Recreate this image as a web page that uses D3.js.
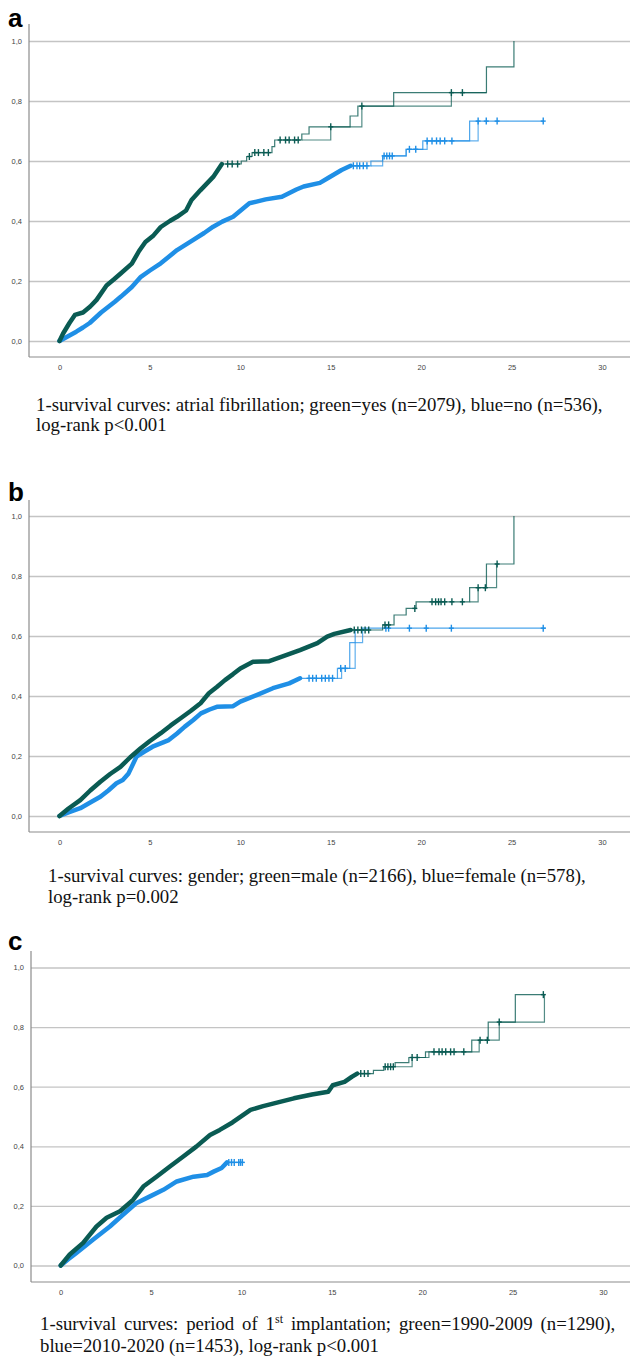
<!DOCTYPE html>
<html>
<head>
<meta charset="utf-8">
<script src="https://cdn.jsdelivr.net/npm/d3@7"></script>
<style>
  body { margin: 0; background: #fff; }
  .tick text { font-family: "Liberation Sans", Arial, sans-serif; font-size: 7.5px; fill: #444; }
  .caption { font-family: "Liberation Serif", "Times New Roman", serif; font-size: 18.8px; fill: #111; }
  .plabel { font-family: "Liberation Sans", Arial, sans-serif; font-size: 26px; font-weight: bold; fill: #000; }
</style>
</head>
<body>
<script>
var svgWidth = 630;
var svgHeight = 1358;

var xTicks = [0, 5, 10, 15, 20, 25, 30];
var yTicks = [0, 0.2, 0.4, 0.6, 0.8, 1.0];

var green = "#0a5b53";
var blue = "#1f8fe6";

// ---- panel a: atrial fibrillation ----
// dense part = heavily censored stretch, read as knots [years, 1-survival]
var afYesDense = [[0,0],[0.2,0.025],[0.55,0.06],[0.85,0.087],[1.3,0.095],[1.7,0.115],[2.05,0.137],[2.6,0.185],[3.0,0.205],[3.4,0.226],[4.0,0.258],[4.4,0.3],[4.75,0.33],[5.2,0.352],[5.6,0.38],[6.1,0.4],[6.5,0.414],[7.0,0.435],[7.3,0.47],[7.8,0.503],[8.5,0.547],[8.98,0.59]];
var afYesSteps = [[8.98,0.59],[10.05,0.6],[10.35,0.615],[10.65,0.628],[11.75,0.648],[11.9,0.67],[13.4,0.69],[13.8,0.714],[16.07,0.75],[16.5,0.783],[18.48,0.828],[23.61,0.914],[25.13,1.0]];
var afYesGhost = [[13.4,0.67],[15.0,0.714],[16.72,0.783],[21.67,0.828],[23.61,0.828]];
var afYesCensor = [9.3,9.55,9.85,10.5,10.8,11.0,11.3,11.55,12.2,12.5,12.7,13.0,13.2,15.0,16.72,21.67,22.28];

var afNoDense = [[0,0],[0.45,0.015],[0.93,0.031],[1.3,0.045],[1.67,0.06],[2.3,0.095],[3.06,0.131],[3.4,0.148],[4.0,0.18],[4.5,0.214],[5.0,0.235],[5.6,0.259],[6.5,0.303],[7.4,0.337],[8.0,0.36],[8.5,0.381],[9.0,0.398],[9.6,0.414],[10.5,0.459],[11.4,0.472],[12.3,0.481],[13.1,0.505],[13.5,0.515],[14.4,0.527],[14.9,0.545],[15.6,0.57],[16.1,0.584]];
var afNoSteps = [[16.1,0.584],[17.22,0.6],[17.87,0.617],[19.17,0.639],[20.09,0.667],[22.68,0.733],[26.8,0.733]];
var afNoGhost = [[17.22,0.584],[17.87,0.617],[19.17,0.639],[20.33,0.667],[23.15,0.733]];
var afNoCensor = [16.25,16.45,16.6,16.8,17.0,17.95,18.1,18.25,18.4,19.35,19.7,20.33,20.6,20.85,21.05,21.3,21.7,23.15,23.6,24.2,26.75];

// ---- panel b: gender ----
var maleDense = [[0,0],[0.5,0.025],[1.15,0.053],[1.7,0.085],[2.26,0.114],[2.8,0.14],[3.37,0.164],[3.9,0.195],[4.49,0.226],[5.0,0.25],[5.6,0.276],[6.15,0.302],[6.7,0.326],[7.25,0.35],[7.8,0.376],[8.26,0.409],[8.7,0.43],[9.15,0.453],[9.6,0.473],[10.0,0.492],[10.7,0.514],[11.6,0.516],[12.3,0.531],[13.3,0.553],[14.26,0.576],[14.8,0.598],[15.2,0.607],[16.1,0.62]];
var maleSteps = [[16.1,0.62],[17.87,0.637],[18.5,0.67],[19.17,0.692],[19.72,0.714],[22.68,0.761],[23.61,0.84],[25.13,1.0]];
var maleGhost = [[22.68,0.714],[23.15,0.761],[24.17,0.84]];
var maleCensor = [16.3,16.5,16.7,16.9,17.1,18.0,18.2,19.65,20.6,20.8,20.96,21.1,21.3,21.7,22.28,23.15,23.55,24.2];

var femaleDense = [[0,0],[0.5,0.012],[1.15,0.026],[1.7,0.045],[2.26,0.064],[2.7,0.085],[3.15,0.109],[3.5,0.12],[3.82,0.142],[4.26,0.198],[4.7,0.215],[5.15,0.231],[6.04,0.253],[6.5,0.275],[6.93,0.298],[7.4,0.32],[7.82,0.342],[8.3,0.355],[8.7,0.364],[9.6,0.366],[10.0,0.381],[10.9,0.403],[11.8,0.426],[12.7,0.442],[13.3,0.459]];
var femaleSteps = [[13.3,0.459],[15.37,0.492],[16.05,0.578],[16.35,0.62],[16.76,0.626],[26.9,0.626]];
var femaleGhost = [[15.37,0.459],[15.6,0.492],[16.35,0.578],[16.76,0.62]];
var femaleCensor = [13.8,14.0,14.2,14.5,14.7,14.9,15.1,15.55,15.8,18.05,18.2,19.35,20.28,21.67,26.75];

// ---- panel c: period of 1st implantation ----
var early90Dense = [[0,0],[0.5,0.037],[1.24,0.076],[1.98,0.131],[2.54,0.16],[3.28,0.182],[4.0,0.22],[4.57,0.265],[5.3,0.298],[6.04,0.332],[6.78,0.366],[7.5,0.399],[8.26,0.438],[8.8,0.455],[9.5,0.48],[10.5,0.522],[11.2,0.535],[11.8,0.544],[12.9,0.561],[13.9,0.574],[14.8,0.583],[15.05,0.605],[15.7,0.616],[16.1,0.633],[16.4,0.644]];
var early90Steps = [[16.4,0.644],[17.3,0.655],[17.87,0.667],[18.5,0.681],[19.26,0.698],[20.18,0.717],[22.74,0.756],[23.65,0.817],[25.15,0.909],[26.76,0.909]];
var early90Ghost = [[18.5,0.667],[19.44,0.698],[20.18,0.698],[20.37,0.717],[22.74,0.717],[23.15,0.756],[23.65,0.756],[24.26,0.817],[25.15,0.817],[26.76,0.817],[26.76,0.909]];
var early90Censor = [16.6,16.8,17.0,17.95,18.1,18.25,18.4,19.44,19.72,20.65,20.93,21.1,21.3,21.57,21.76,22.3,23.2,23.6,24.26,26.7];

var late10Dense = [[0,0],[0.4,0.02],[0.87,0.042],[1.8,0.087],[2.72,0.131],[3.46,0.171],[4.2,0.21],[4.94,0.232],[5.68,0.254],[6.42,0.282],[7.35,0.298],[8.1,0.304],[8.46,0.315],[8.9,0.327],[9.2,0.346]];
var late10Steps = [[9.2,0.346],[10.15,0.346]];
var late10Censor = [9.3,9.45,9.6,9.85,9.95,10.05];

var captionA = ["1-survival curves: atrial fibrillation; green=yes (n=2079), blue=no (n=536),", "log-rank p<0.001"];
var captionB = ["1-survival curves: gender; green=male (n=2166), blue=female (n=578),", "log-rank p=0.002"];
var captionC = [["1-survival curves: period of 1", "st", " implantation; green=1990-2009 (n=1290),"], "blue=2010-2020 (n=1453), log-rank p<0.001"];

var panels = [
  { label: "a", labelY: 27, axisX: 29, axisTop: 24, y1: 41, y0: 341, axisBottom: 357, x0: 59.5, x30: 602,
    capX: 36, capY: [411, 431], capWord: [0, 0], caption: captionA,
    series: [
      { dense: afNoDense, steps: afNoSteps, ghost: afNoGhost, censor: afNoCensor, color: blue },
      { dense: afYesDense, steps: afYesSteps, ghost: afYesGhost, censor: afYesCensor, color: green }
    ] },
  { label: "b", labelY: 501, axisX: 29, axisTop: 500, y1: 516, y0: 816, axisBottom: 832, x0: 59.5, x30: 602,
    capX: 48, capY: [882, 903], capWord: [0, 0], caption: captionB,
    series: [
      { dense: femaleDense, steps: femaleSteps, ghost: femaleGhost, censor: femaleCensor, color: blue },
      { dense: maleDense, steps: maleSteps, ghost: maleGhost, censor: maleCensor, color: green }
    ] },
  { label: "c", labelY: 950, axisX: 31, axisTop: 951, y1: 967.5, y0: 1265.5, axisBottom: 1282, x0: 60.7, x30: 603,
    capX: 40, capY: [1330, 1352], capWord: [3.2, 0], caption: captionC,
    series: [
      { dense: late10Dense, steps: late10Steps, ghost: null, censor: late10Censor, color: blue },
      { dense: early90Dense, steps: early90Steps, ghost: early90Ghost, censor: early90Censor, color: green }
    ] }
];

var svg = d3.select("body").append("svg")
  .attr("width", svgWidth)
  .attr("height", svgHeight);

// level of the curve at time t (last knot at or before t)
function valueAt(s, t) {
  var v = 0;
  s.dense.concat(s.steps).forEach(function(p) { if (p[0] <= t) v = p[1]; });
  return v;
}

function drawPanel(p) {
  var g = svg.append("g");
  var x = d3.scaleLinear().domain([0, 30]).range([p.x0, p.x30]);
  var y = d3.scaleLinear().domain([0, 1]).range([p.y0, p.y1]);

  // y axis with full width gridlines
  var yAxis = d3.axisLeft(y)
    .tickValues(yTicks)
    .tickSize(-(svgWidth - p.axisX))
    .tickPadding(7)
    .tickFormat(function(d) { return d.toFixed(1).replace(".", ","); });
  var ya = g.append("g").attr("transform", "translate(" + p.axisX + ",0)").call(yAxis);
  ya.select(".domain").remove();
  ya.selectAll(".tick line").attr("stroke", "#c4c4c4").attr("stroke-width", 1.3);

  var xAxis = d3.axisBottom(x).tickValues(xTicks).tickSize(0).tickPadding(8);
  var xa = g.append("g").attr("transform", "translate(0," + p.axisBottom + ")").call(xAxis);
  xa.select(".domain").remove();

  // axis lines
  g.append("line").attr("x1", p.axisX).attr("x2", p.axisX).attr("y1", p.axisTop).attr("y2", p.axisBottom)
    .attr("stroke", "#8c8c8c").attr("stroke-width", 1.2);
  g.append("line").attr("x1", p.axisX).attr("x2", svgWidth).attr("y1", p.axisBottom).attr("y2", p.axisBottom)
    .attr("stroke", "#8c8c8c").attr("stroke-width", 1.2);

  var band = d3.line().x(function(d) { return x(d[0]); }).y(function(d) { return y(d[1]); });
  var step = d3.line().curve(d3.curveStepAfter).x(function(d) { return x(d[0]); }).y(function(d) { return y(d[1]); });

  p.series.forEach(function(s) {
    g.append("path").datum(s.dense).attr("d", band)
      .attr("fill", "none").attr("stroke", s.color).attr("stroke-width", 4.5)
      .attr("stroke-linejoin", "round").attr("stroke-linecap", "round");
    if (s.ghost) {
      g.append("path").datum(s.ghost).attr("d", step)
        .attr("fill", "none").attr("stroke", s.color).attr("stroke-width", 1.2).attr("opacity", 0.7);
    }
    g.append("path").datum(s.steps).attr("d", step)
      .attr("fill", "none").attr("stroke", s.color).attr("stroke-width", 1.2).attr("opacity", 0.8);

    var marks = g.selectAll(null).data(s.censor).enter().append("g")
      .attr("transform", function(t) { return "translate(" + x(t) + "," + y(valueAt(s, t)) + ")"; });
    marks.append("line").attr("y1", -3.5).attr("y2", 3.5)
      .attr("stroke", s.color).attr("stroke-width", 1.4);
    marks.append("line").attr("x1", -2.5).attr("x2", 2.5)
      .attr("stroke", s.color).attr("stroke-width", 1.4);
  });

  // panel letter
  svg.append("text").attr("class", "plabel").attr("x", 8).attr("y", p.labelY).text(p.label);

  // caption
  p.caption.forEach(function(line, i) {
    var t = svg.append("text").attr("class", "caption")
      .attr("x", p.capX).attr("y", p.capY[i])
      .attr("word-spacing", p.capWord[i]);
    if (Array.isArray(line)) {
      t.append("tspan").text(line[0]);
      t.append("tspan").attr("dy", -7).attr("font-size", "12px").text(line[1]);
      t.append("tspan").attr("dy", 7).text(line[2]);
    } else {
      t.text(line);
    }
  });
}

panels.forEach(drawPanel);
</script>
</body>
</html>
